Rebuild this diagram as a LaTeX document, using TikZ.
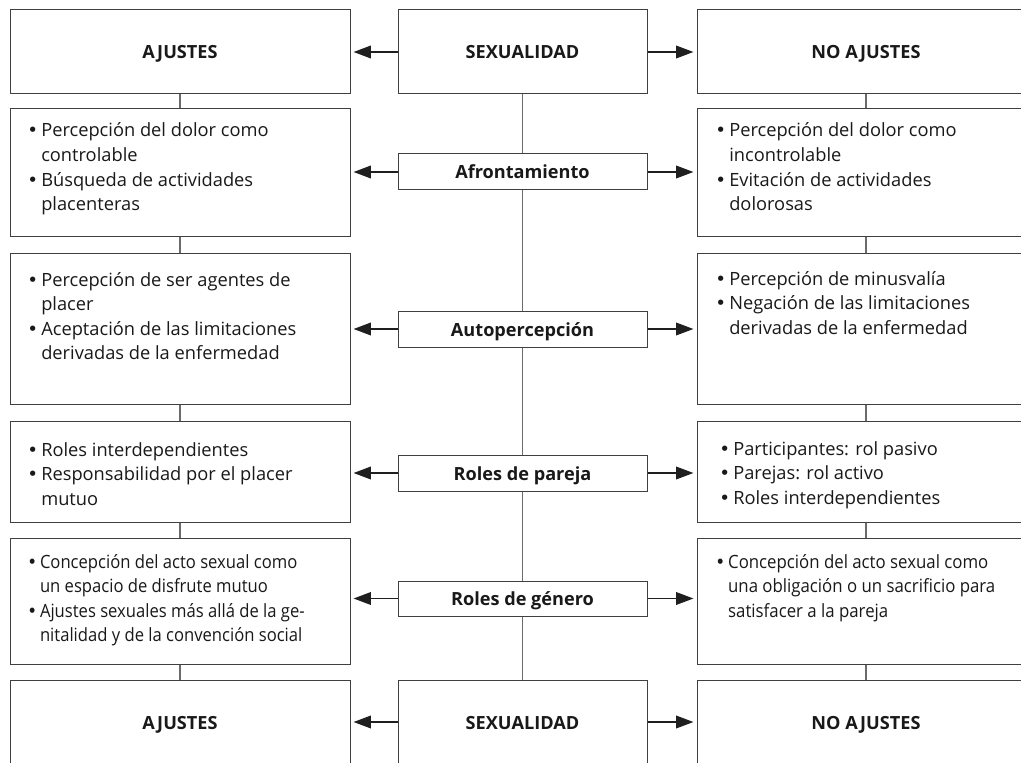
\documentclass[tikz,border=0pt]{standalone}
\usepackage{fontspec}
\usepackage{graphicx}
\setmainfont{Open Sans}
\newfontfamily\dvfont{DejaVu Sans}
\usetikzlibrary{arrows.meta,fit}
\definecolor{boxc}{gray}{0.25}
\definecolor{connc}{gray}{0.42}
\definecolor{arrc}{gray}{0.12}
\newcommand\blist[1]{\begin{tabular}[t]{@{}l@{}}#1\end{tabular}}
\newcommand\itm{\makebox[10.5pt][l]{{\dvfont\textbullet}}}
\newcommand\cnt{\hspace*{10.5pt}}
\begin{document}
\begin{tikzpicture}[x=0.75pt,y=-0.75pt,
  box/.style={draw=boxc, line width=0.75pt, inner sep=0pt, fill=white},
  lbl/.style={font=\bfseries\fontsize{13.6}{15}\selectfont, inner sep=0pt, anchor=base, text=black!90},
  txt/.style={font=\fontsize{13.7}{18.4}\selectfont, inner sep=0pt, anchor=base west, text=black!90},
  conn/.style={draw=connc, line width=0.8pt},
  arr/.style={draw=arrc, line width=1pt, -{Triangle[length=13pt,width=9.5pt]}, shorten >=2.3pt}]
\useasboundingbox (0,0) rectangle (1021,763);
% boxes
\node[box, fit={(10,10)(350,94)}] (L0) {};
\node[box, fit={(398,10)(647,94)}] (C0) {};
\node[box, fit={(697,10)(1035,94)}] (R0) {};
\node[box, fit={(10,109)(350,236)}] (L1) {};
\node[box, fit={(697,109)(1035,236)}] (R1) {};
\node[box, fit={(398,154)(647,190)}] (C1) {};
\node[box, fit={(10,253)(350,404)}] (L2) {};
\node[box, fit={(697,253)(1035,404)}] (R2) {};
\node[box, fit={(398,311)(647,347)}] (C2) {};
\node[box, fit={(10,421)(350,522)}] (L3) {};
\node[box, fit={(697,421)(1035,522)}] (R3) {};
\node[box, fit={(398,455)(647,491)}] (C3) {};
\node[box, fit={(10,538)(350,664)}] (L4) {};
\node[box, fit={(697,538)(1035,664)}] (R4) {};
\node[box, fit={(398,581)(647,616)}] (C4) {};
\node[box, fit={(10,680)(350,764)}] (L5) {};
\node[box, fit={(398,680)(647,764)}] (C5) {};
\node[box, fit={(697,680)(1035,764)}] (R5) {};
% labels
\node[lbl] (l0t) at (180,59) {AJUSTES};
\node[lbl] (c0t) at (522.5,59) {SEXUALIDAD};
\node[lbl] (r0t) at (866,59) {NO AJUSTES};
\node[lbl] (c1t) at (522.5,179) {Afrontamiento};
\node[lbl] (c2t) at (522.5,336) {Autopercepción};
\node[lbl] (c3t) at (522.5,480) {Roles de pareja};
\node[lbl] (c4t) at (522.5,605.5) {Roles de género};
\node[lbl] (l5t) at (180,729) {AJUSTES};
\node[lbl] (c5t) at (522.5,729) {SEXUALIDAD};
\node[lbl] (r5t) at (866,729) {NO AJUSTES};
% texts
\node[txt] (t1l) at (27,137) {\blist{\itm Percepción del dolor como\\ \cnt controlable\\ \itm Búsqueda de actividades\\ \cnt placenteras}};
\node[txt] (t1r) at (715,137) {\blist{\itm Percepción del dolor como\\ \cnt incontrolable\\ \itm Evitación de actividades\\ \cnt dolorosas}};
\node[txt] (t2l) at (27,286) {\blist{\itm Percepción de ser agentes de\\ \cnt placer\\ \itm Aceptación de las limitaciones\\ \cnt derivadas de la enfermedad}};
\node[txt] (t2r) at (715,285) {\blist{\itm Percepción de minusvalía\\ \itm Negación de las limitaciones\\ \cnt derivadas de la enfermedad}};
\node[txt] (t3l) at (27,456) {\blist{\itm Roles interdependientes\\ \itm Responsabilidad por el placer\\ \cnt mutuo}};
\node[txt] (t3r) at (719,455) {\blist{\itm Participantes: rol pasivo\\ \itm Parejas: rol activo\\ \itm Roles interdependientes}};
\node[txt] (t4l) at (27,568) {\scalebox{0.91}[1]{\blist{\itm Concepción del acto sexual como\\ \cnt un espacio de disfrute mutuo\\ \itm Ajustes sexuales más allá de la ge-\\ \cnt nitalidad y de la convención social}}};
\node[txt] (t4r) at (715,568) {\scalebox{0.92}[1]{\blist{\itm Concepción del acto sexual como\\ \cnt una obligación o un sacrificio para\\ \cnt satisfacer a la pareja}}};
% vertical connectors
\foreach \a/\b in {C0/C1,C1/C2,C2/C3,C3/C4,C4/C5,L0/L1,L1/L2,L2/L3,L3/L4,L4/L5,R0/R1,R1/R2,R2/R3,R3/R4,R4/R5}
  \draw[conn] (\a.south) -- (\b.north);
% arrows
\foreach \c/\l/\r in {C0/L0/R0,C1/L1/R1,C2/L2/R2,C3/L3/R3,C4/L4/R4,C5/L5/R5} {
  \draw[arr] (\c.west) -- (\c.west -| \l.east);
  \draw[arr] (\c.east) -- (\c.east -| \r.west);
}
\end{tikzpicture}
\end{document}
